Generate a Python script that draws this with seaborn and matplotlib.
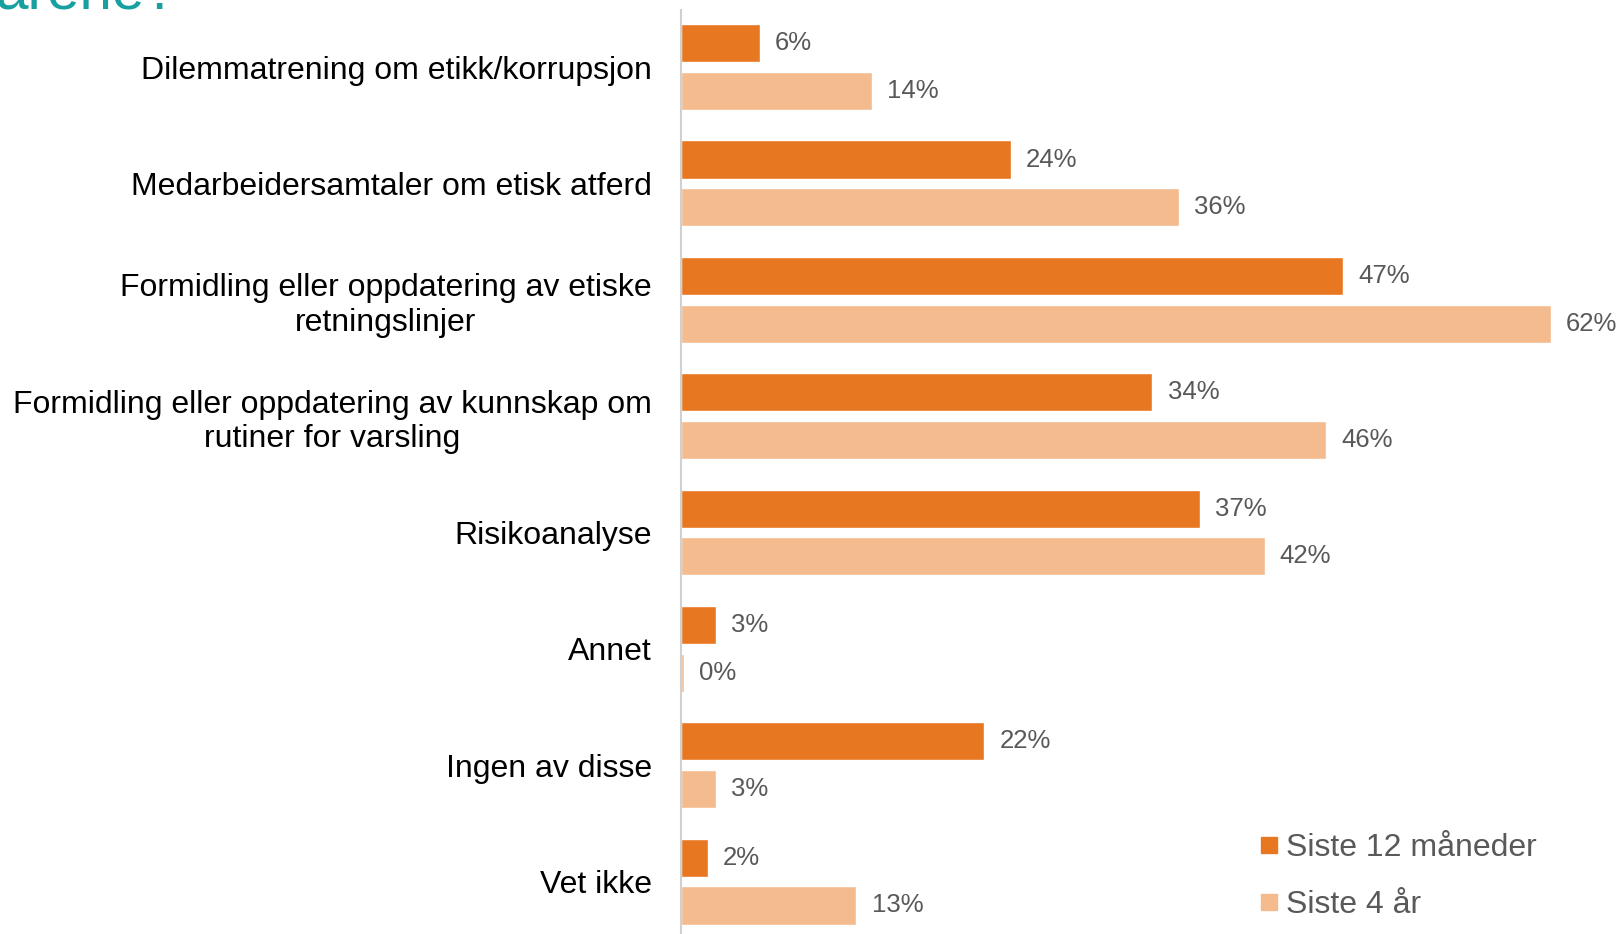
import matplotlib
matplotlib.use('Agg')
import matplotlib.pyplot as plt
import pandas as pd
import seaborn as sns
from matplotlib.lines import Line2D

# data
categories = [
    'Dilemmatrening om etikk/korrupsjon',
    'Medarbeidersamtaler om etisk atferd',
    'Formidling eller oppdatering av etiske\nretningslinjer',
    'Formidling eller oppdatering av kunnskap om\nrutiner for varsling',
    'Risikoanalyse',
    'Annet',
    'Ingen av disse',
    'Vet ikke',
]
series = ['Siste 12 måneder', 'Siste 4 år']
siste_12_mnd = [5.6, 23.5, 47.2, 33.6, 37.0, 2.5, 21.6, 1.9]
siste_4_aar = [13.6, 35.5, 62.0, 46.0, 41.6, 0.2, 2.5, 12.5]
# printed labels
labels_12_mnd = [6, 24, 47, 34, 37, 3, 22, 2]
labels_4_aar = [14, 36, 62, 46, 42, 0, 3, 13]
colors = ['#E87722', '#F4BB8F']

df = pd.DataFrame({
    'kategori': categories * 2,
    'serie': [series[0]] * len(categories) + [series[1]] * len(categories),
    'verdi': siste_12_mnd + siste_4_aar,
})

sns.set_style('white')
plt.rcParams['font.family'] = ['Liberation Sans', 'DejaVu Sans']

fig = plt.figure(figsize=(16.22, 9.34), dpi=100)
ax = fig.add_axes([681 / 1622, 0.0, 1 - 681 / 1622 - 0.018, 924 / 934])

sns.barplot(data=df, y='kategori', x='verdi', hue='serie', orient='h',
            palette=colors, width=0.82, gap=0.2, saturation=1, ax=ax, legend=False)

# value labels
for cont, labs in zip(ax.containers, [labels_12_mnd, labels_4_aar]):
    ax.bar_label(cont, labels=[f'{v}%' for v in labs], padding=11, fontsize=18.5, color='#595959')

ax.set_xlim(0, 65)
ax.set_ylim(7.45, -0.49)
ax.set_xlabel('')
ax.set_ylabel('')
ax.set_xticks([])
ax.tick_params(axis='y', length=0, pad=21, labelsize=23, labelcolor='black')
for lab in ax.get_yticklabels():
    lab.set_multialignment('center')

for s in ['top', 'right', 'bottom']:
    ax.spines[s].set_visible(False)
ax.spines['left'].set_color('#d0d0d0')
ax.spines['left'].set_linewidth(1.5)

handles = [Line2D([], [], marker='s', linestyle='', markersize=11, color=c) for c in colors]
fig.legend(handles, series, loc='upper left', bbox_to_anchor=(1237 / 1622, 1 - 817 / 934),
           frameon=False, fontsize=23, labelcolor='#595959', handletextpad=0.02,
           handlelength=1.0, labelspacing=0.85, borderpad=0)

# title cut off at the top, as in the source
fig.text(-0.003, 1 - 10 / 934, 'arene?', fontsize=42, color='#16A0A0', va='baseline', ha='left')

fig.savefig('out.png', dpi=100)
